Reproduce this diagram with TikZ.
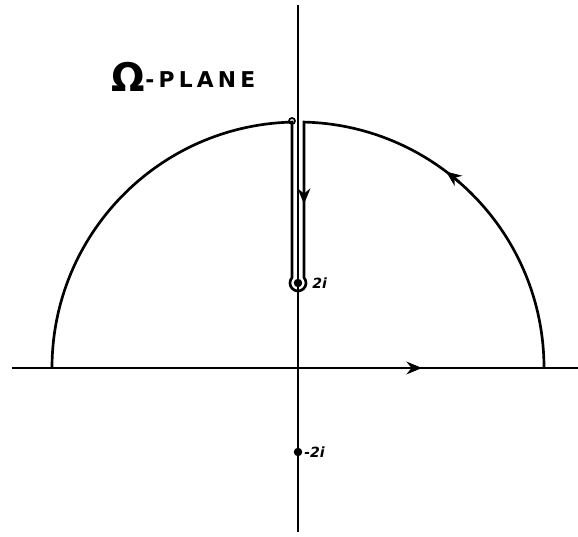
\documentclass[tikz,border=0pt]{standalone}
\usepackage{amsmath, amssymb}
\usepackage{fontspec}
\usepackage{tikz}
\usetikzlibrary{positioning, arrows.meta}
\newfontfamily\heavyfont{DejaVu Sans}

\begin{document}
\begin{tikzpicture}[x=0.025cm, y=0.025cm, line width=1.9pt,
    dot/.style={draw, circle, fill=black, inner sep=1.4pt},
    tip/.style={-{Stealth[length=11pt, width=9pt]}},
    lbl/.style={font=\heavyfont\bfseries\itshape\fontsize{10}{10}\selectfont, inner sep=0pt}]
    \useasboundingbox (-298,-169) rectangle (280,368);

    % Define the axes
    \coordinate (xw) at (-286,0);
    \coordinate (xe) at (280,0);
    \coordinate (yn) at (0,363);
    \coordinate (ys) at (0,-164);
    \coordinate (xa) at (106,0);
    \coordinate (xb) at (124,0);

    % Contour corners
    \coordinate (A) at (246,0);
    \coordinate (B) at (-246,0);

    % Poles
    \node[dot] (p2i) at (0,85) {};
    \node[dot] (m2i) at (0,-84) {};
    \node[lbl, anchor=west] (l2i) at (13,85) {2i};
    \node[lbl, anchor=west] (lm2i) at (5,-84) {-2i};

    % Title
    \node[anchor=base west, inner sep=0pt, font=\heavyfont\bfseries\fontsize{28}{28}\selectfont] (omega) at (-188,276) {Ω};
    \node[anchor=base west, inner sep=0pt, font=\heavyfont\bfseries\fontsize{15.5}{15.5}\selectfont] (plane) at (-154,280)
        {-\kern3pt P\kern3pt L\kern3pt A\kern3pt N\kern3pt E};

    % Draw the axes
    \draw[line width=1.7pt] (xw) -- (xe);
    \draw[line width=1.7pt] (ys) -- (yn);
    \draw[tip] (xa) -- (xb);

    % The keyhole contour
    \draw (A) arc[start angle=0, end angle=88.6, radius=246]
        -- (6,90.3) arc[start angle=41.4, end angle=-221.4, radius=8]
        -- (-6,245.9) arc[start angle=91.4, end angle=180, radius=246];
    \draw[line width=1.2pt] (-6,247) circle (3);
    \draw[tip] (49:246) arc[start angle=49, end angle=53, radius=246];
    \draw[tip] (6,184) -- (6,164);

\end{tikzpicture}
\end{document}
